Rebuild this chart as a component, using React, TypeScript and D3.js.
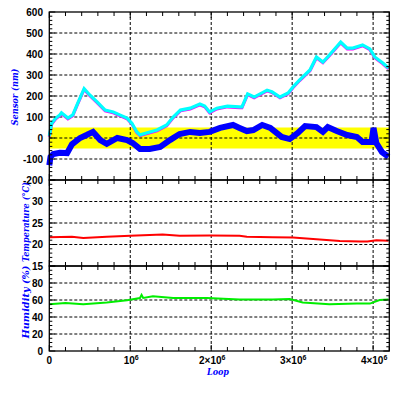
import React from "react";
import * as d3 from "d3";

// loop values in millions
const cyanLoop = [0, 0.03, 0.08, 0.13, 0.15, 0.23, 0.29, 0.35, 0.43, 0.5, 0.59, 0.69, 0.79, 0.87, 0.96, 1.02, 1.08, 1.12, 1.21, 1.33, 1.45, 1.53, 1.62, 1.74, 1.86, 1.92, 1.98, 2.07, 2.2, 2.35, 2.38, 2.45, 2.53, 2.69, 2.75, 2.85, 2.95, 3.01, 3.09, 3.22, 3.3, 3.38, 3.46, 3.6, 3.68, 3.75, 3.87, 3.96, 4.02, 4.12, 4.19];
const cyanVal = [10, 70, 95, 110, 120, 95, 110, 165, 235, 205, 172, 133, 124, 110, 95, 70, 30, 15, 25, 38, 62, 100, 133, 142, 162, 152, 124, 142, 152, 148, 148, 210, 195, 228, 220, 195, 214, 243, 276, 324, 386, 362, 395, 457, 428, 428, 443, 424, 386, 357, 333];

const blueLoop = [0, 0.015, 0.05, 0.13, 0.22, 0.28, 0.38, 0.46, 0.54, 0.63, 0.71, 0.84, 0.96, 1.03, 1.12, 1.24, 1.37, 1.49, 1.61, 1.74, 1.86, 1.98, 2.11, 2.27, 2.35, 2.44, 2.52, 2.63, 2.73, 2.87, 2.97, 3.07, 3.16, 3.3, 3.38, 3.44, 3.55, 3.68, 3.8, 3.87, 3.98, 4.005, 4.04, 4.11, 4.19];
const blueVal = [-130, -90, -76, -70, -72, -30, 0, 14, 29, -10, -28, 0, -10, -24, -52, -52, -43, -10, 19, 29, 24, 29, 48, 62, 48, 33, 38, 62, 48, 5, -5, 24, 57, 52, 29, 52, 33, 14, 5, -19, -19, 48, -24, -67, -90];

const tempLoop = [0, 0.28, 0.42, 0.71, 1.0, 1.4, 1.61, 1.98, 2.35, 2.44, 2.76, 3.01, 3.3, 3.59, 3.84, 3.93, 4.04, 4.19];
const tempVal = [21.7, 21.8, 21.5, 21.8, 22.05, 22.3, 22.05, 22.1, 22.05, 21.8, 21.7, 21.6, 21.2, 20.8, 20.7, 20.7, 21.0, 20.9];

const humLoop = [0, 0.2, 0.42, 0.71, 0.96, 1.12, 1.14, 1.16, 1.28, 1.53, 1.95, 2.35, 2.76, 2.97, 3.13, 3.46, 3.8, 3.96, 4.08, 4.19];
const humVal = [55, 56.5, 55, 57, 59.6, 62.3, 66, 62.5, 64.3, 62.3, 62.3, 60.5, 60.5, 61.2, 57, 55, 55.8, 55.8, 60, 60.5];

const xTickVals = [0, 1, 2, 3, 4];
const xTickLabels = [["0", ""], ["10", "6"], ["2×10", "6"], ["3×10", "6"], ["4×10", "6"]];

const sensorTicks = [600, 500, 400, 300, 200, 100, 0, -100, -200];
const tempTicks = [30, 25, 20, 15];
const humTicks = [80, 60, 40, 20, 0];

const X0 = 49.3, X1 = 389.3;
const x = d3.scaleLinear().domain([0, 4.2]).range([X0, X1]);

type Panel = {
  dom: [number, number]; top: number; bottom: number; major: number; minor: number;
  labels: number[]; title: string; titleY: number; titleX: number; titleLen: number;
};

const panels: Panel[] = [
  { dom: [-200, 600], top: 12, bottom: 180, major: 100, minor: 20, labels: sensorTicks, title: "Sensor (nm)", titleY: 97, titleX: 14, titleLen: 57 },
  { dom: [15, 35], top: 180, bottom: 266, major: 5, minor: 1, labels: tempTicks, title: "Temperature (°C)", titleY: 222, titleX: 25, titleLen: 80 },
  { dom: [0, 100], top: 266, bottom: 351, major: 20, minor: 5, labels: humTicks, title: "Humidity (%)", titleY: 302, titleX: 25, titleLen: 73 },
];

const ys = panels.map((p) => d3.scaleLinear().domain(p.dom).range([p.bottom, p.top]));

const blue = "#0000ff";
const tickFont = "'Liberation Sans', Arial, sans-serif";
const titleFont = "'DejaVu Serif', serif";

export default function App() {
  const mkLine = (ys0: d3.ScaleLinear<number, number>, xs: number[], vs: number[]) =>
    d3.line<number>().x((_, i) => x(xs[i])).y((v) => ys0(v))(vs) || "";

  const xMinor = d3.range(0, 4.2001, 0.2);
  const xMajorGrid = [1, 2, 3, 4];

  return (
    <svg width={399} height={399} style={{ position: "absolute", left: 0, top: 0, background: "#fff" }}>
      <rect x={0} y={0} width={399} height={399} fill="#fff" />
      {/* yellow band */}
      <rect x={X0} width={X1 - X0} y={ys[0](50)} height={ys[0](-50) - ys[0](50)} fill="#ffff00" />
      {/* grid */}
      {panels.map((p, pi) => {
        const yMaj = d3.range(p.dom[0] + p.major, p.dom[1] - 0.001, p.major);
        return (
          <g key={"g" + pi} stroke="#000" strokeWidth={1} strokeDasharray="3,2">
            {yMaj.map((v) => (
              <line key={v} x1={X0} x2={X1} y1={ys[pi](v)} y2={ys[pi](v)} />
            ))}
            {xMajorGrid.map((v) => (
              <line key={"v" + v} x1={x(v)} x2={x(v)} y1={p.top} y2={p.bottom} />
            ))}
          </g>
        );
      })}
      {/* data */}
      <path d={mkLine(ys[0], cyanLoop, cyanVal)} transform="translate(0,0.8)" fill="none" stroke="#ff00ff" strokeWidth={3} />
      <path d={mkLine(ys[0], cyanLoop, cyanVal)} fill="none" stroke="#00ffff" strokeWidth={3.2} />
      <path d={mkLine(ys[0], blueLoop, blueVal)} fill="none" stroke="#0000ff" strokeWidth={6} strokeLinejoin="miter" />
      <path d={mkLine(ys[1], tempLoop, tempVal)} fill="none" stroke="#ff0000" strokeWidth={2} />
      <path d={mkLine(ys[2], humLoop, humVal)} fill="none" stroke="#00ee00" strokeWidth={2} />
      {/* frames and ticks */}
      {panels.map((p, pi) => {
        const y = ys[pi];
        const yMin = d3.range(p.dom[0], p.dom[1] + 0.001, p.minor);
        return (
          <g key={"f" + pi} stroke="#000" strokeWidth={1}>
            <rect x={X0} y={p.top} width={X1 - X0} height={p.bottom - p.top} fill="none" stroke="#000" strokeWidth={1.3} />
            {yMin.map((v) => {
              const isMaj = Math.abs(v / p.major - Math.round(v / p.major)) < 1e-6;
              const L = isMaj ? 6 : 3;
              return (
                <g key={"t" + v}>
                  <line x1={X0} x2={X0 + L} y1={y(v)} y2={y(v)} />
                  <line x1={X1} x2={X1 - L} y1={y(v)} y2={y(v)} />
                </g>
              );
            })}
            {xMinor.map((v, i) => {
              const isMaj = i % 5 === 0;
              const L = isMaj ? 6 : 4;
              return (
                <g key={"x" + i}>
                  <line x1={x(v)} x2={x(v)} y1={p.top} y2={p.top + L} />
                  <line x1={x(v)} x2={x(v)} y1={p.bottom} y2={p.bottom - L} />
                </g>
              );
            })}
          </g>
        );
      })}
      {/* y tick labels */}
      {panels.map((p, pi) =>
        p.labels.map((v) => (
          <text key={pi + "l" + v} x={43} y={ys[pi](v) + 3.5} textAnchor="end" fontFamily={tickFont} fontWeight="bold" fontSize={10} fill="#000">
            {v}
          </text>
        ))
      )}
      {/* x tick labels */}
      {xTickVals.map((v, i) => (
        <text key={"xl" + v} x={x(v) + (i === 0 ? 0 : 1)} y={364} textAnchor="middle" fontFamily={tickFont} fontWeight="bold" fontSize={10} fill="#000">
          {xTickLabels[i][0]}
          {xTickLabels[i][1] && (
            <tspan dy={-4} fontSize={7}>{xTickLabels[i][1]}</tspan>
          )}
        </text>
      ))}
      {/* titles */}
      {panels.map((p, pi) => (
        <text key={"ti" + pi} transform={`translate(${p.titleX},${p.titleY}) rotate(-90)`} textAnchor="middle" dy={3.5} fontFamily={titleFont} fontStyle="italic" fontWeight="bold" fontSize={9} textLength={p.titleLen} lengthAdjust="spacingAndGlyphs" fill={blue}>
          {p.title}
        </text>
      ))}
      <text x={218} y={375} textAnchor="middle" fontFamily={titleFont} fontStyle="italic" fontWeight="bold" fontSize={9} textLength={22} lengthAdjust="spacingAndGlyphs" fill={blue}>
        Loop
      </text>
    </svg>
  );
}
